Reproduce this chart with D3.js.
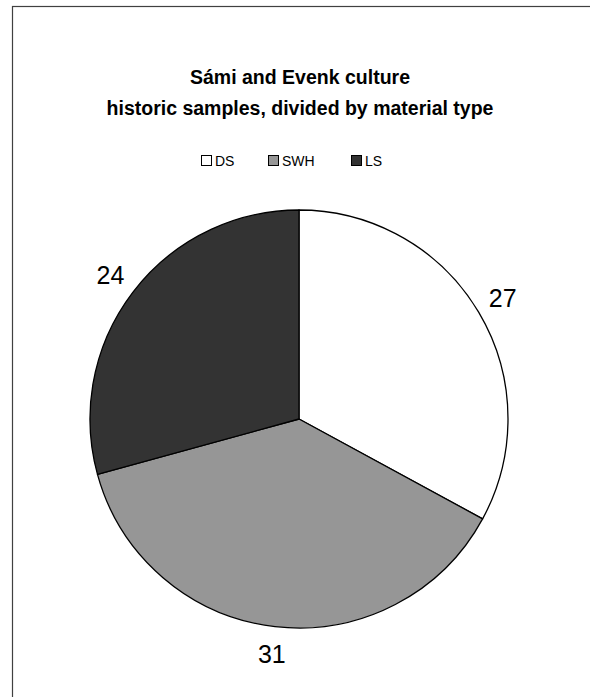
<!DOCTYPE html>
<html>
<head>
<meta charset="utf-8">
<script src="https://cdn.jsdelivr.net/npm/d3@7/dist/d3.min.js"></script>
<style>
  html, body { margin: 0; padding: 0; background: #fff; }
  svg { display: block; font-family: "Liberation Sans", Arial, sans-serif; }
</style>
</head>
<body>
<svg id="chart" width="590" height="697"></svg>
<script>
// Sample counts by material type
const categories = ["DS", "SWH", "LS"];
const counts = [27, 31, 24];
const fills = ["#ffffff", "#969696", "#333333"];
const titleLines = ["Sámi and Evenk culture", "historic samples, divided by material type"];

const svg = d3.select("#chart");
const W = 590, H = 697;

// chart area frame
svg.append("rect")
  .attr("x", 12.5).attr("y", 6.5)
  .attr("width", W).attr("height", H)
  .attr("fill", "#fff")
  .attr("stroke", "#404040")
  .attr("stroke-width", 1.2);

// title
const title = svg.append("text")
  .attr("text-anchor", "middle")
  .attr("font-weight", "bold")
  .attr("font-size", 19.5)
  .attr("fill", "#000");
titleLines.forEach((line, i) => {
  title.append("tspan")
    .attr("x", 300)
    .attr("y", 84 + i * 31)
    .text(line);
});

// legend
const legendPos = [201, 268, 351];
const legend = svg.append("g");
const item = legend.selectAll("g").data(categories).join("g")
  .attr("transform", (d, i) => `translate(${legendPos[i]},155)`);
item.append("rect")
  .attr("x", 0.5).attr("y", 0.5)
  .attr("width", 10).attr("height", 10)
  .attr("fill", (d, i) => fills[i])
  .attr("stroke", "#000")
  .attr("stroke-width", 1);
item.append("text")
  .attr("x", 14).attr("y", 10.5)
  .attr("font-size", 14)
  .attr("fill", "#000")
  .text(d => d);

// pie
const cx = 299, cy = 419, R = 209;
const pie = d3.pie().sort(null).value(d => d)
  .startAngle(0).endAngle(2 * Math.PI);
const arcs = pie(counts);
const arc = d3.arc().innerRadius(0).outerRadius(R);

const g = svg.append("g").attr("transform", `translate(${cx},${cy})`);
g.selectAll("path").data(arcs).join("path")
  .attr("d", arc)
  .attr("fill", (d, i) => fills[i])
  .attr("stroke", "#000")
  .attr("stroke-width", 1.3)
  .attr("stroke-linejoin", "round");

// value labels outside each slice
const labelArc = d3.arc().innerRadius(237).outerRadius(237);
g.selectAll("text.val").data(arcs).join("text")
  .attr("class", "val")
  .attr("transform", d => `translate(${labelArc.centroid(d)})`)
  .attr("text-anchor", "middle")
  .attr("dy", "0.36em")
  .attr("font-size", 25)
  .attr("fill", "#000")
  .text(d => d.data);
</script>
</body>
</html>
